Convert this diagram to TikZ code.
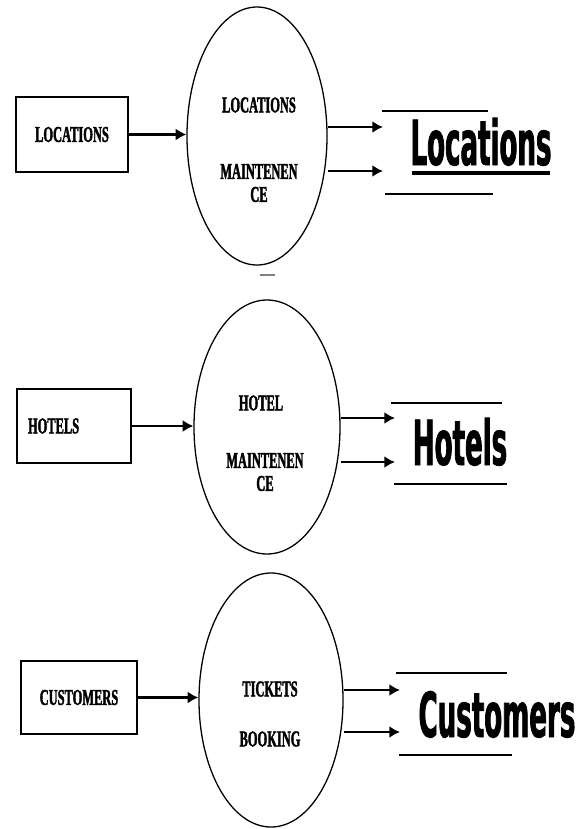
\documentclass[tikz,border=0pt]{standalone}
\usepackage{fontspec}
\usetikzlibrary{shapes.geometric,arrows.meta}
\newfontfamily\dfdfont[FakeStretch=0.55,FakeBold=1.6]{Liberation Serif Bold}
\newfontfamily\storefont[FakeStretch=0.42,FakeBold=1.2]{DejaVu Sans Bold}
\tikzstyle{ent}=[rectangle,draw=black,line width=1.6pt,minimum width=3.42cm,minimum height=2.22cm,inner sep=0pt,font=\dfdfont\fontsize{19.3}{19.6}\selectfont]
\tikzstyle{proc}=[ellipse,draw=black,line width=1.1pt,minimum width=4.3cm,minimum height=7.65cm,inner sep=0pt]
\tikzstyle{ptxt}=[align=center,inner sep=0pt,font=\dfdfont\fontsize{19.3}{19.6}\selectfont]
\tikzstyle{store}=[anchor=base,inner sep=0pt,font=\storefont\fontsize{53}{60}\selectfont]
\tikzstyle{flow}=[line width=1.8pt,-{Latex[length=3.2mm,width=3.6mm]}]
\tikzstyle{sline}=[line width=1.6pt]

\begin{document}
\begin{tikzpicture}[x=0.03cm,y=-0.03cm]
\useasboundingbox (0,0) rectangle (584,829);
\node[ent,minimum width=3.36cm,minimum height=2.25cm] (b1) at (72,134.5) {LOCATIONS};
\node[ent,text width=2.76cm,align=left] (b2) at (74,426) {HOTELS};
\node[ent,minimum width=3.48cm,minimum height=2.19cm] (b3) at (79,697.5) {CUSTOMERS};
\node[proc,minimum width=4.2cm,minimum height=7.74cm] (p1) at (257,136) {};
\node[proc,minimum width=4.38cm,minimum height=7.62cm] (p2) at (267,427) {};
\node[proc,minimum width=4.32cm,minimum height=7.62cm] (p3) at (271,700) {};
\node[ptxt] (p1a) at (259,105) {LOCATIONS};
\node[ptxt] (p1b) at (259,183) {MAINTENEN\\CE};
\node[ptxt] (p2a) at (261,403) {HOTEL};
\node[ptxt] (p2b) at (265,472) {MAINTENEN\\CE};
\node[ptxt] (p3a) at (270,689) {TICKETS};
\node[ptxt] (p3b) at (270,739) {BOOKING};
\node[store] (s1) at (481,165) {Locations};
\node[store] (s2) at (460,465) {Hotels};
\node[store] (s3) at (497,737) {Customers};
\coordinate (s1a) at (383,127);
\coordinate (s1b) at (383,171);
\coordinate (s2a) at (395,418);
\coordinate (s2b) at (395,462);
\coordinate (s3a) at (400,690);
\coordinate (s3b) at (400,732);
\draw[flow] (b1.east) -- (b1.east -| p1.west);
\draw[flow] (b2.east) -- (b2.east -| p2.west);
\draw[flow] (b3.east) -- (b3.east -| p3.west);
\draw[flow] (s1a -| p1.east) -- (s1a);
\draw[flow] (s1b -| p1.east) -- (s1b);
\draw[flow] (s2a -| p2.east) -- (s2a);
\draw[flow] (s2b -| p2.east) -- (s2b);
\draw[flow] (s3a -| p3.east) -- (s3a);
\draw[flow] (s3b -| p3.east) -- (s3b);
\draw[sline] (382,111) -- (488,111);
\draw[sline] (385,194) -- (493,194);
\draw[line width=2.6pt] (412,173) -- (550,173);
\draw[sline] (391,403) -- (502,403);
\draw[sline] (394,484) -- (507,484);
\draw[sline] (396,673) -- (507,673);
\draw[sline] (399,755) -- (512,755);
\draw[gray,line width=1.2pt] (260,275) -- (275,275);
\end{tikzpicture}
\end{document}
